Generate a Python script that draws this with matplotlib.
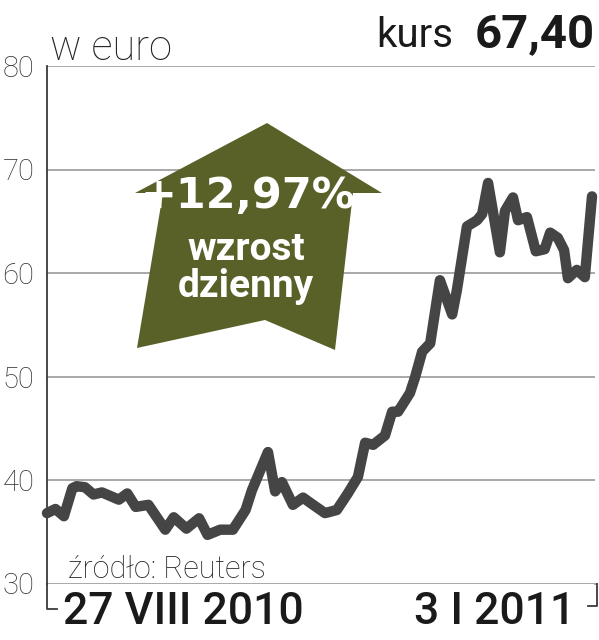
import matplotlib
matplotlib.use('Agg')
import matplotlib.pyplot as plt
from matplotlib import font_manager
from matplotlib.patches import Polygon
from matplotlib.lines import Line2D

names = {f.name for f in font_manager.fontManager.ttflist}
def pick(*c):
    for n in c:
        if n in names:
            return n
    return 'DejaVu Sans'
MAIN = pick('Roboto', 'Lato', 'Open Sans', 'DejaVu Sans')

# ---- data ----
days = [0, 2, 4, 6, 7, 9, 11, 13, 17, 19, 21, 24, 28, 30, 33, 36, 38, 41, 44, 47,
        48.5, 52.3, 54.0, 55.6, 58.2, 60.6, 62.3, 65.8, 68.6, 71.2, 73.6, 75.3, 77.2,
        80.0, 81.7, 83.1, 85.9, 87.1, 88.8, 90.7, 93.0, 95.9, 97.0, 99.4, 101.8, 103.0,
        104.4, 107.2, 108.4, 110.3, 111.5, 113.6, 115.7, 117.8, 119.1, 120.9, 122.4,
        123.3, 125.4, 127.3, 129]
price = [36.8, 37.2, 36.5, 39.2, 39.4, 39.3, 38.6, 38.8, 38.1, 38.7, 37.4, 37.6, 35.2,
         36.4, 35.3, 36.3, 34.7, 35.2, 35.2, 37.1,
         39.0, 42.7, 38.9, 39.8, 37.6, 38.3, 37.8, 36.8, 37.1, 38.7, 40.3, 43.6, 43.4,
         44.3, 46.6, 46.6, 48.4, 49.9, 52.4, 53.2, 59.3, 56.0, 58.3, 64.5, 65.1, 65.7,
         68.7, 62.0, 66.0, 67.3, 65.1, 65.4, 62.1, 62.3, 63.9, 63.4, 62.2,
         59.5, 60.3, 59.6, 67.4]
y_ticks = [30, 40, 50, 60, 70, 80]
y_labels = ['30', '40', '50', '60', '70', '80']
start_label = '27 VIII 2010'
end_label = '3 I 2011'
unit_label = 'w euro'
last_word = 'kurs'
last_value = '67,40'
change_value = '+12,97%'
change_text = 'wzrost\ndzienny'
source_label = 'źródło: Reuters'

# ---- layout ----
W, H = 599, 640
fig = plt.figure(figsize=(W / 100, H / 100), dpi=100)
L, R, T, B = 47, 595, 66, 583.5
ax = fig.add_axes([L / W, 1 - B / H, (R - L) / W, (B - T) / H])
ax.set_ylim(30, 80)
ax.set_xlim(0, 129 * (R - L) / (592 - L))

def fx(px):
    return px / W
def fy(py):
    return 1 - py / H

for s in ['top', 'right', 'bottom']:
    ax.spines[s].set_visible(False)
ax.spines['left'].set_color('#3a3a3a')
ax.spines['left'].set_linewidth(1.3)
ax.set_xticks([])
ax.set_yticks(y_ticks)
ax.set_yticklabels(y_labels, fontfamily=MAIN, fontweight='light', fontsize=21, color='#333333')
ax.tick_params(axis='y', length=0, pad=9)
for t in y_ticks:
    ax.axhline(t, color='#a8a8a8', lw=1.4, zorder=1)

# bottom bracket
lc = '#3a3a3a'
fig.add_artist(Line2D([fx(L), fx(L), fx(57)], [fy(B), fy(609), fy(609)], color=lc, lw=1.3))
fig.add_artist(Line2D([fx(R), fx(597)], [fy(B), fy(B)], color='#a8a8a8', lw=1.4))
fig.add_artist(Line2D([fx(597), fx(597), fx(588)], [fy(B), fy(606), fy(606)], color=lc, lw=1.3))

# arrow
arrow_px = [(267, 123), (382, 193), (353, 193), (335, 350), (265, 320),
            (137, 348), (163, 193), (135, 193)]
poly = Polygon([(fx(x), fy(y)) for x, y in arrow_px], closed=True,
               transform=fig.transFigure, facecolor='#5a6128', edgecolor='none', zorder=3)
ax.add_patch(poly)
poly.set_clip_on(False)

ax.text(fx(248), fy(196), change_value, transform=fig.transFigure, ha='center', va='center',
        fontfamily='DejaVu Sans', fontweight='bold', fontsize=31, color='white', zorder=5)
ax.text(fx(246), fy(268), change_text, transform=fig.transFigure, ha='center', va='center',
        fontfamily=MAIN, fontweight='bold', fontsize=28, color='white', linespacing=1.0, zorder=5)

# line
ax.plot(days, price, color='#454545', lw=7.5, solid_joinstyle='round',
        solid_capstyle='round', zorder=4, clip_on=False)

# texts
fig.text(fx(50), fy(60), unit_label, fontfamily=MAIN, fontweight='light', fontsize=30,
         color='#222222', ha='left', va='baseline')
fig.text(fx(595), fy(47), last_value, fontfamily=MAIN, fontweight='bold', fontsize=34,
         color='#1a1a1a', ha='right', va='baseline')
fig.text(fx(453), fy(47), last_word, fontfamily=MAIN, fontsize=29,
         color='#1a1a1a', ha='right', va='baseline')
fig.text(fx(68), fy(578), source_label, fontfamily=MAIN, fontweight='light', fontsize=22,
         color='#222222', ha='left', va='baseline')
fig.text(fx(63), fy(624), start_label, fontfamily=MAIN, fontweight='medium', fontsize=32,
         color='#1a1a1a', ha='left', va='baseline')
fig.text(fx(575), fy(624), end_label, fontfamily=MAIN, fontweight='medium', fontsize=32,
         color='#1a1a1a', ha='right', va='baseline')

fig.savefig('out.png', dpi=100)
